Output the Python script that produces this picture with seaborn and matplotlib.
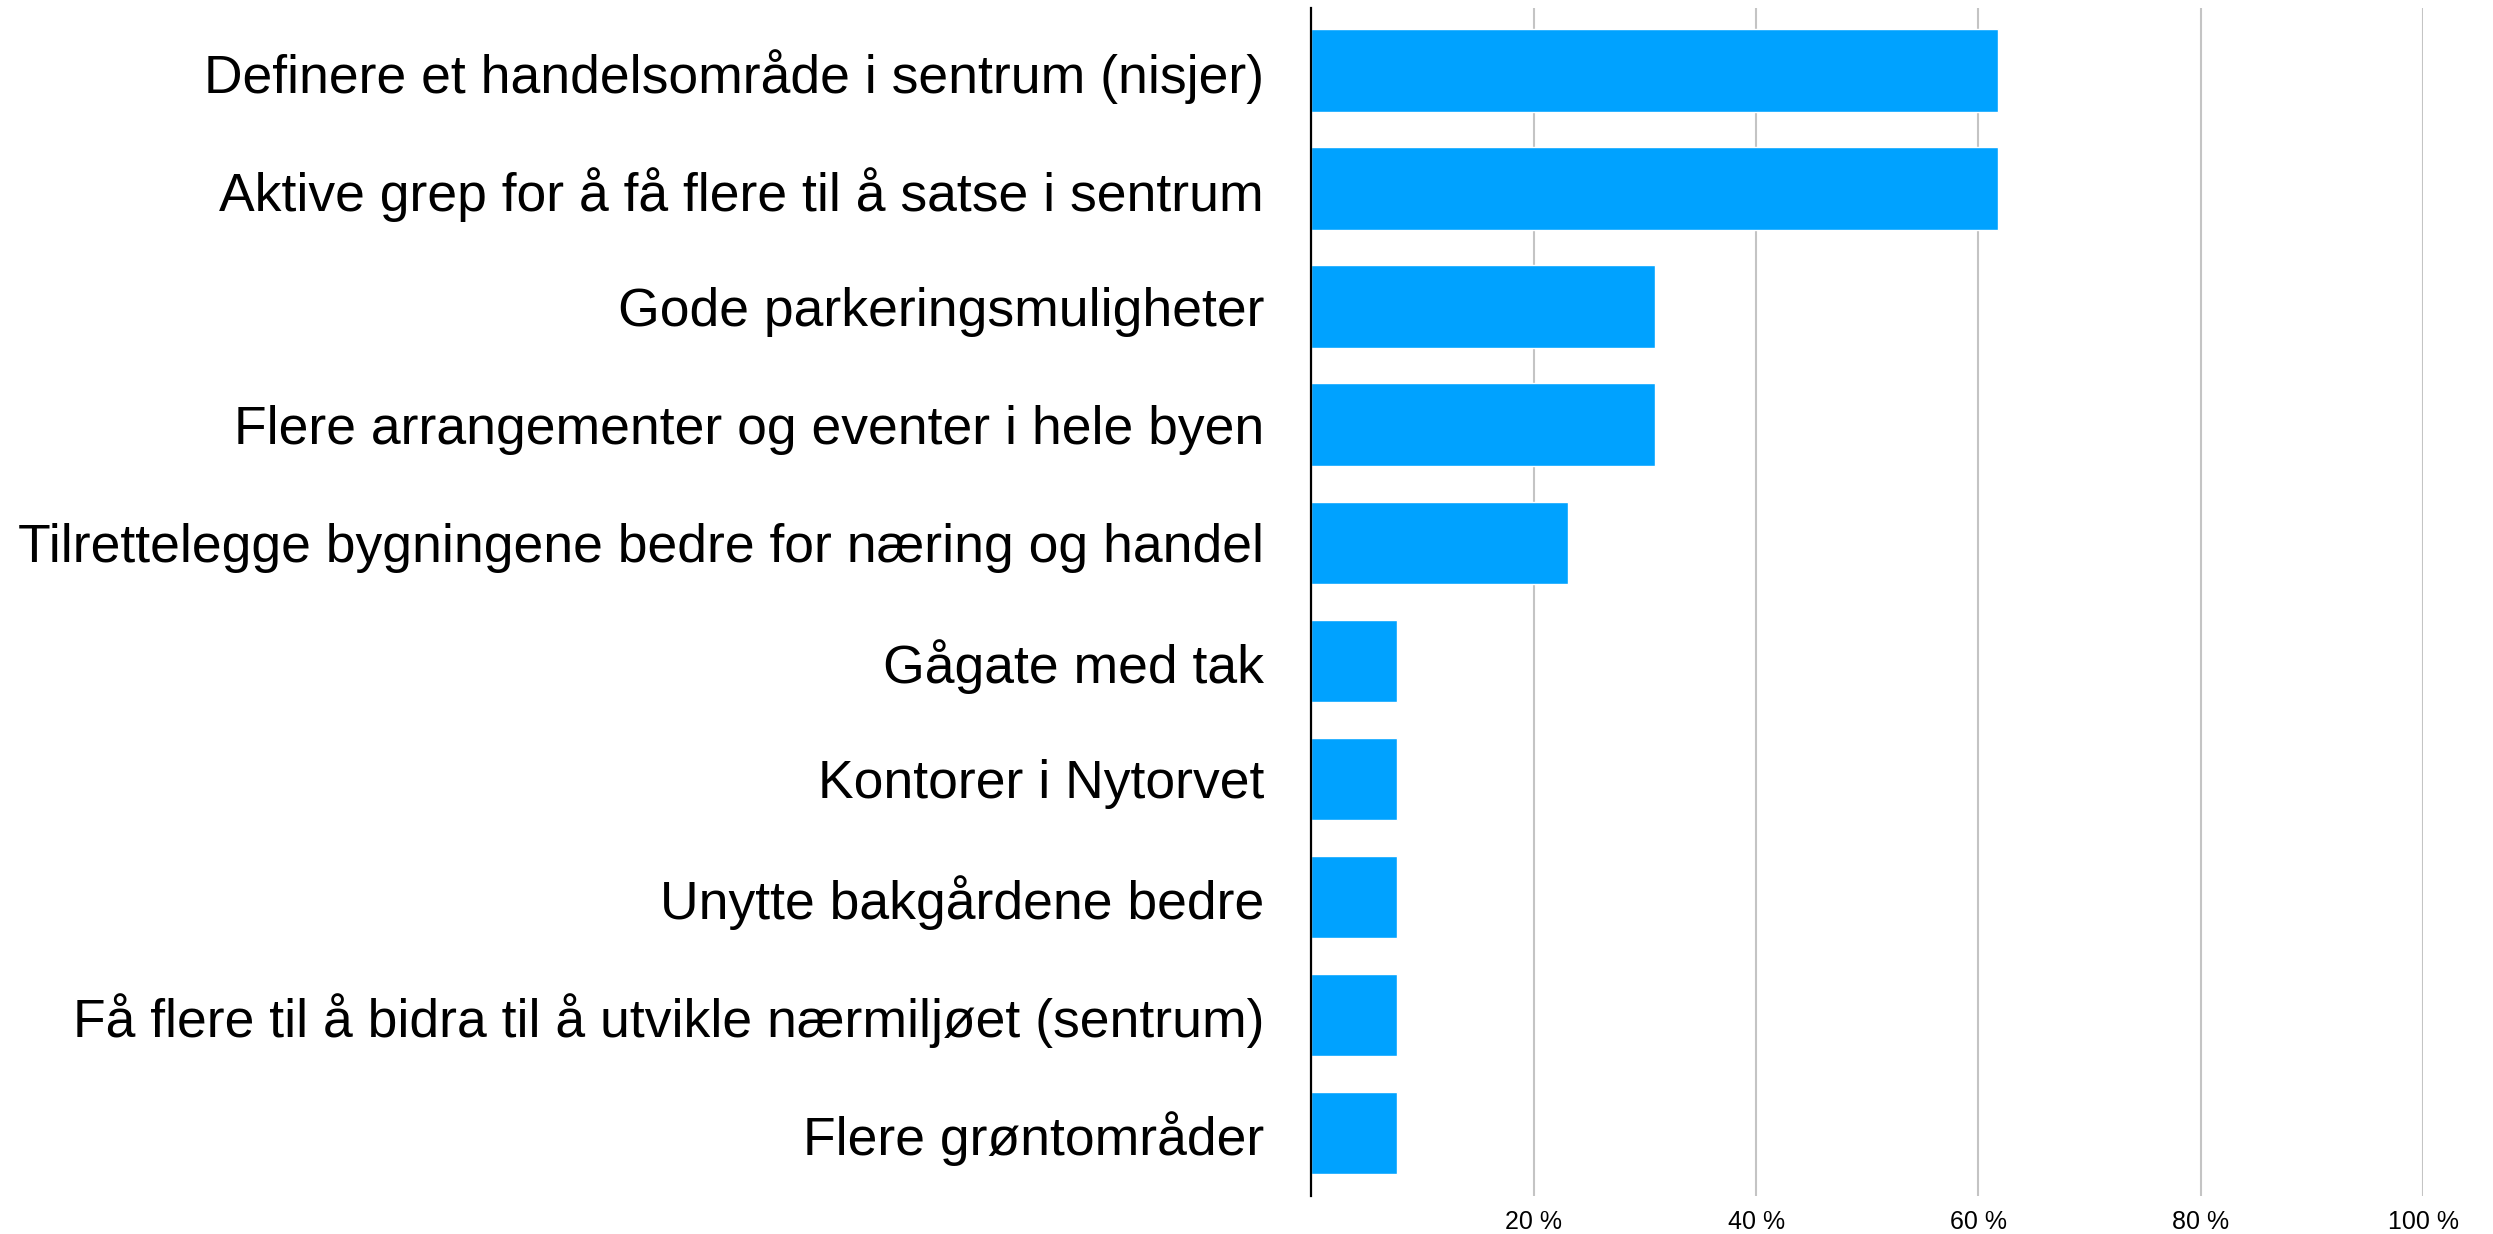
import matplotlib.pyplot as plt
import pandas as pd
import seaborn as sns
from matplotlib.ticker import FuncFormatter

tiltak = [
    "Definere et handelsområde i sentrum (nisjer)",
    "Aktive grep for å få flere til å satse i sentrum",
    "Gode parkeringsmuligheter",
    "Flere arrangementer og eventer i hele byen",
    "Tilrettelegge bygningene bedre for næring og handel",
    "Gågate med tak",
    "Kontorer i Nytorvet",
    "Unytte bakgårdene bedre",
    "Få flere til å bidra til å utvikle nærmiljøet (sentrum)",
    "Flere grøntområder",
]
andel = [61.8, 61.8, 30.9, 30.9, 23.1, 7.7, 7.7, 7.7, 7.7, 7.7]
x_ticks = [20, 40, 60, 80, 100]

sns.set_style("white")
plt.rcParams['font.family'] = ['Liberation Sans', 'DejaVu Sans']
plt.rcParams['text.color'] = 'black'
plt.rcParams['xtick.color'] = 'black'
plt.rcParams['ytick.color'] = 'black'

df = pd.DataFrame({'tiltak': tiltak, 'andel': andel})

fig = plt.figure(figsize=(24.93, 12.34), dpi=100)
ax = fig.add_axes([0.526, 0.031, 0.446, 0.9625])

ax.grid(axis='x', color='#c4c4c4', linewidth=1.5, zorder=0)
ax.set_axisbelow(True)
sns.barplot(data=df, x='andel', y='tiltak', color='#00a2ff', width=0.7,
            saturation=1, ax=ax, zorder=3)

ax.set_xlim(0, 100)
ax.set_ylim(9.53, -0.53)
ax.set_xticks(x_ticks)
ax.xaxis.set_major_formatter(FuncFormatter(lambda x, pos: f'{int(x)} %'))
ax.tick_params(axis='x', length=0, pad=10, labelsize=18)
ax.tick_params(axis='y', length=0, pad=34, labelsize=38.5)
ax.set(xlabel='', ylabel='')

for s in ['top', 'right', 'bottom']:
  ax.spines[s].set_visible(False)
ax.spines['left'].set_color('black')
ax.spines['left'].set_linewidth(1.6)
ax.spines['left'].set_zorder(4)

plt.savefig('out.png', dpi=100)
plt.close()
